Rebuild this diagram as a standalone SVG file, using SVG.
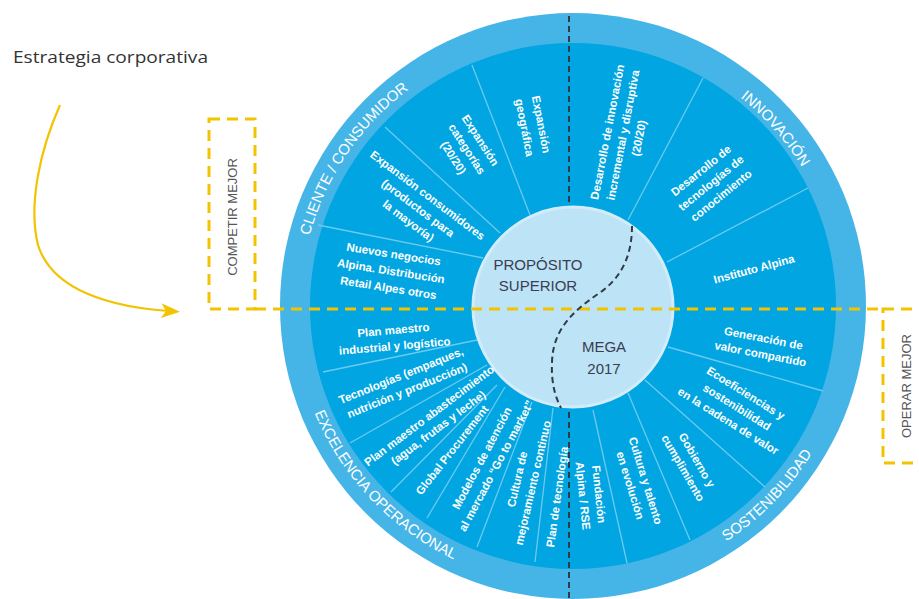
<svg xmlns="http://www.w3.org/2000/svg" width="919" height="599" viewBox="0 0 919 599">
<defs>
<style>
.st{font-family:"Liberation Sans",Arial,sans-serif;font-weight:bold;font-size:11.5px;fill:#fff;text-anchor:middle}
.rl{font-family:"Liberation Sans",Arial,sans-serif;font-size:15px;fill:#fff}
.sep{stroke:#6ccaf0;stroke-width:1.3;fill:none}
.yd{stroke:#f2c300;stroke-width:3;stroke-dasharray:11 7;fill:none}
.kd{stroke:#2f3b45;stroke-width:2;stroke-dasharray:6 4;fill:none}
.ct{font-family:"Liberation Sans",Arial,sans-serif;font-size:15px;fill:#3a3d50;text-anchor:middle}
.side{font-family:"Liberation Sans",Arial,sans-serif;font-size:13px;fill:#555;text-anchor:middle}
</style>
<marker id="ah" markerUnits="userSpaceOnUse" markerWidth="19" markerHeight="15" refX="15" refY="7.5" orient="auto" viewBox="0 0 19 15"><path d="M0,0 L19,7.5 L0,15 L5,7.5 z" fill="#f2c300"/></marker>
<path id="arcCli" d="M337.4,442 A270,270 0 0 1 610.8,38.7"/>
<path id="arcInn" d="M502.2,47.5 A270,270 0 0 1 821.9,410"/>
<path id="arcExc" d="M310.6,208.4 A281,281 0 0 0 657.7,573.9"/>
<path id="arcSos" d="M485.1,572.8 A281,281 0 0 0 837.6,211.6"/>
</defs>

<g id="title"><text x="13" y="63" font-family="'Open Sans','Liberation Sans',sans-serif" font-size="16.5" fill="#333" textLength="195" lengthAdjust="spacingAndGlyphs">Estrategia corporativa</text></g>

<g id="wheel">
<circle cx="573" cy="306" r="293" fill="#45b5e7"/>
<circle cx="573" cy="306" r="263" fill="#00a5e2"/>
</g>

<g id="separators" class="sep">
<line x1="472" y1="65" x2="530" y2="215"/>
<line x1="385" y1="127" x2="500" y2="233"/>
<line x1="318" y1="225" x2="483" y2="258"/>
<line x1="703" y1="78" x2="628" y2="220"/>
<line x1="808" y1="188" x2="667" y2="262"/>
<line x1="668" y1="347" x2="823" y2="391"/>
<line x1="645" y1="380" x2="765" y2="487"/>
<line x1="628" y1="393" x2="690" y2="540"/>
<line x1="593" y1="410" x2="627" y2="563"/>
<line x1="477" y1="340" x2="323" y2="372"/>
<line x1="487" y1="365" x2="350" y2="443"/>
<line x1="497" y1="385" x2="391" y2="492"/>
<line x1="505" y1="387" x2="427" y2="518"/>
<line x1="532" y1="402" x2="477" y2="547"/>
<line x1="553" y1="408" x2="535" y2="562"/>
</g>

<g id="center">
<circle cx="573" cy="307" r="100" fill="#bde3f7" stroke="#d3ecfa" stroke-width="3"/>
</g>

<g id="ring-labels">
<g id="lbl-cliente"><text class="rl"><textPath href="#arcCli" startOffset="50%" text-anchor="middle">CLIENTE / CONSUMIDOR</textPath></text></g>
<g id="lbl-innovacion"><text class="rl"><textPath href="#arcInn" startOffset="50%" text-anchor="middle">INNOVACIÓN</textPath></text></g>
<g id="lbl-excelencia"><text class="rl" font-size="14"><textPath href="#arcExc" startOffset="50%" text-anchor="middle">EXCELENCIA OPERACIONAL</textPath></text></g>
<g id="lbl-sostenibilidad"><text class="rl" font-size="14"><textPath href="#arcSos" startOffset="50%" text-anchor="middle">SOSTENIBILIDAD</textPath></text></g>
</g>

<g id="sectors">
<g id="s-geo"><text class="st" font-size="11" transform="translate(533,126) rotate(79)"><tspan x="0" y="-4.5">Expansión</tspan><tspan x="0" y="12.5">geográfica</tspan></text></g>
<g id="s-cat"><text class="st" transform="translate(467,149) rotate(57)"><tspan x="0" y="-12">Expansión</tspan><tspan x="0" y="4">categorías</tspan><tspan x="0" y="20">(20/20)</tspan></text></g>
<g id="s-cons"><text class="st" transform="translate(418,208) rotate(37)"><tspan x="0" y="-12">Expansión consumidores</tspan><tspan x="0" y="4">(productos para</tspan><tspan x="0" y="20">la mayoría)</tspan></text></g>
<g id="s-nuevos"><text class="st" transform="translate(391,271) rotate(9)"><tspan x="0" y="-13">Nuevos negocios</tspan><tspan x="0" y="4">Alpina. Distribución</tspan><tspan x="0" y="21">Retail Alpes otros</tspan></text></g>

<g id="s-innov"><text class="st" transform="translate(623,135) rotate(-79)"><tspan x="0" y="-12">Desarrollo de innovación</tspan><tspan x="0" y="4">incremental y disruptiva</tspan><tspan x="0" y="20">(20/20)</tspan></text></g>
<g id="s-tecno"><text class="st" transform="translate(711,183) rotate(-39)"><tspan x="0" y="-12">Desarrollo de</tspan><tspan x="0" y="4">tecnologías de</tspan><tspan x="0" y="20">conocimiento</tspan></text></g>
<g id="s-instituto"><text class="st" font-size="12" transform="translate(754,269) rotate(-15)"><tspan x="0" y="4">Instituto Alpina</tspan></text></g>

<g id="s-valor"><text class="st" transform="translate(762,346) rotate(11)"><tspan x="0" y="-4">Generación de</tspan><tspan x="0" y="12">valor compartido</tspan></text></g>
<g id="s-eco"><text class="st" font-size="12" transform="translate(737,407) rotate(32)"><tspan x="0" y="-12.5">Ecoeficiencias y</tspan><tspan x="0" y="4">sostenibilidad</tspan><tspan x="0" y="20.5">en la cadena de valor</tspan></text></g>
<g id="s-gob"><text class="st" transform="translate(690,464) rotate(60)"><tspan x="0" y="-4">Gobierno y</tspan><tspan x="0" y="12">cumplimiento</tspan></text></g>
<g id="s-cultura"><text class="st" transform="translate(638,483) rotate(73)"><tspan x="0" y="-4">Cultura y talento</tspan><tspan x="0" y="12">en evolución</tspan></text></g>
<g id="s-fund"><text class="st" transform="translate(591,495) rotate(84)"><tspan x="0" y="-4">Fundación</tspan><tspan x="0" y="12">Alpina / RSE</tspan></text></g>

<g id="s-plan-ind"><text class="st" transform="translate(394,338) rotate(-5)"><tspan x="0" y="-4">Plan maestro</tspan><tspan x="0" y="12">industrial y logístico</tspan></text></g>
<g id="s-tecnologias"><text class="st" transform="translate(404,383) rotate(-22)"><tspan x="0" y="-4">Tecnologías (empaques,</tspan><tspan x="0" y="12">nutrición y producción)</tspan></text></g>
<g id="s-abast"><text class="st" font-size="10.5" transform="translate(434,422) rotate(-37)"><tspan x="0" y="-4">Plan maestro abastecimiento</tspan><tspan x="0" y="11">(agua, frutas y leche)</tspan></text></g>
<g id="s-global"><text class="st" font-size="12" transform="translate(452,450) rotate(-52)"><tspan x="0" y="4">Global Procurement</tspan></text></g>
<g id="s-modelos"><text class="st" font-size="11" transform="translate(489,462) rotate(-62)"><tspan x="0" y="-4">Modelos de atención</tspan><tspan x="0" y="12">al mercado “Go to market”</tspan></text></g>
<g id="s-mejora"><text class="st" font-size="12" transform="translate(525,481) rotate(-77)"><tspan x="0" y="-4">Cultura de</tspan><tspan x="0" y="12">mejoramiento continuo</tspan></text></g>
<g id="s-plantec"><text class="st" transform="translate(557,497) rotate(-82)"><tspan x="0" y="4">Plan de tecnología</tspan></text></g>
</g>

<g id="core-labels">
<g id="n-proposito"><text class="ct"><tspan x="538" y="270">PROPÓSITO</tspan><tspan x="538" y="291">SUPERIOR</tspan></text></g>
<g id="n-mega"><text class="ct" font-size="16"><tspan x="604" y="352">MEGA</tspan><tspan x="604" y="374">2017</tspan></text></g>
</g>

<g id="boxes">
<g id="n-competir"><rect x="209" y="119" width="46" height="190" class="yd"/><text class="side" transform="translate(232,217) rotate(-90)" y="4.5">COMPETIR MEJOR</text></g>
<g id="n-operar"><rect x="883" y="309" width="46" height="154" class="yd"/><text class="side" transform="translate(906,386) rotate(-90)" y="4.5">OPERAR MEJOR</text></g>
</g>

<g id="connectors">
<line x1="255" y1="309" x2="883" y2="309" class="yd"/>
<line x1="569" y1="16" x2="569" y2="204" class="kd"/>
<path d="M632,226 C632,255 622,278 598,294 C572,312 553,330 552,362 C551,385 556,398 561,408" class="kd"/>
<line x1="569" y1="412" x2="569" y2="598" class="kd"/>
<path d="M60,105 C40,150 28,205 38,245 C52,290 110,308 176,311.5" fill="none" stroke="#f2c300" stroke-width="2.2" marker-end="url(#ah)"/>
</g>
</svg>
